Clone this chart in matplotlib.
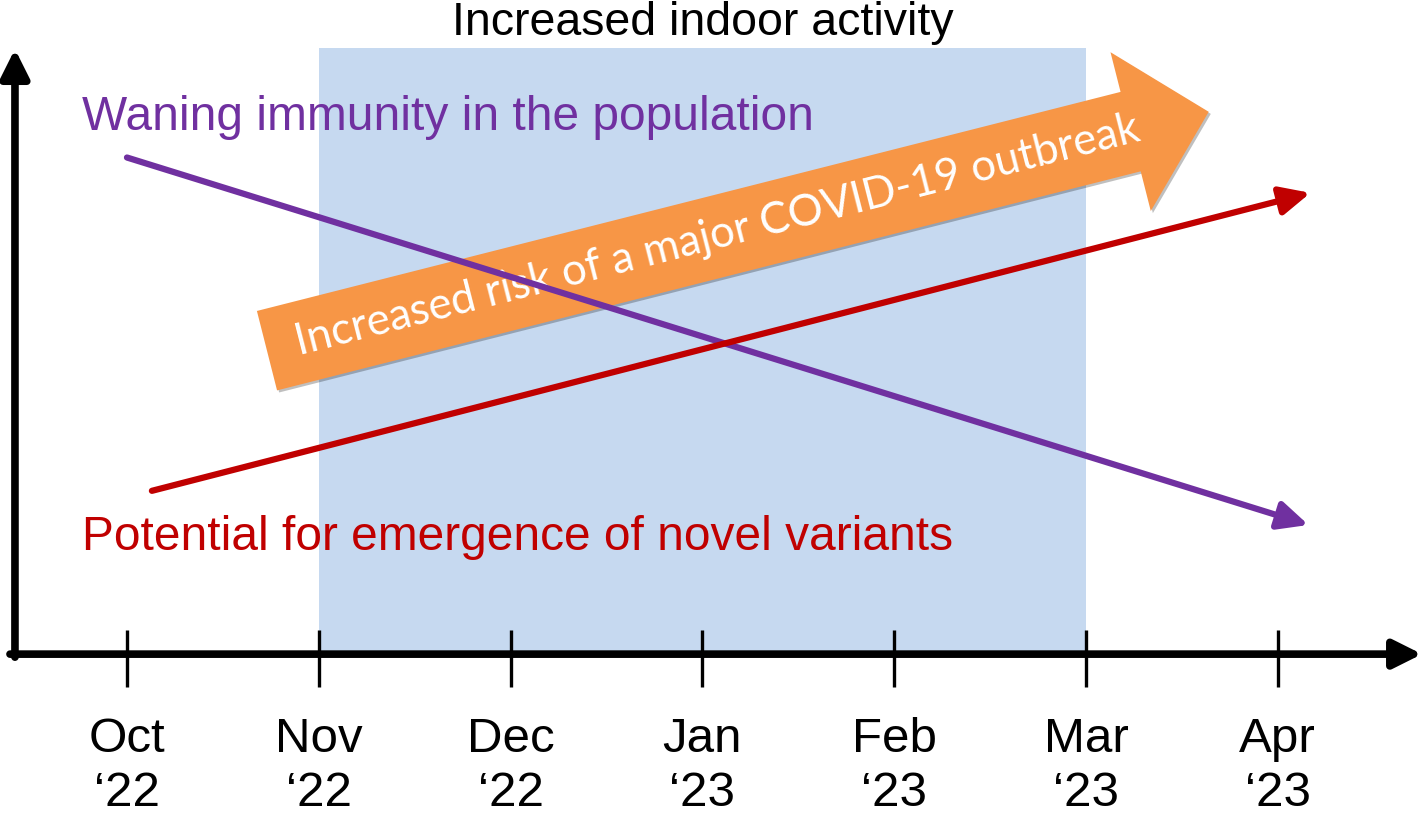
import matplotlib
matplotlib.use("Agg")
import matplotlib.pyplot as plt
import matplotlib.patheffects as pe

# months on the x axis (index 0 = Oct '22)
months = ["Oct", "Nov", "Dec", "Jan", "Feb", "Mar", "Apr"]
years = ["\u201822", "\u201822", "\u201822", "\u201823", "\u201823", "\u201823", "\u201823"]

# indoor season (month index start / end)
indoor_span = [1, 5]

# trend arrows: (month, relative level)
immunity_x = [0.0, 6.16]
immunity_y = [0.815, 0.212]
variants_x = [0.13, 6.17]
variants_y = [0.268, 0.757]
risk_x = [0.73, 5.64]
risk_y = [0.498, 0.890]

PURPLE = "#7030A0"
RED = "#C00000"
ORANGE = "#F79646"
SHADE = "#C6D9F0"

pshadow = [pe.SimplePatchShadow(offset=(1.5, -1.5), alpha=0.25, shadow_rgbFace="k"), pe.Normal()]

fig = plt.figure(figsize=(14.22, 8.15), dpi=100)
ax = fig.add_axes([0, 0, 1, 1])
ax.set_xlim(-0.662, 6.752)
ax.set_ylim(-0.264, 1.0735)
ax.axis("off")

# shaded indoor period
ax.fill_between(indoor_span, 0.0, 0.995, color=SHADE, lw=0, zorder=1)
ax.text(sum(indoor_span) / 2, 1.035, "Increased indoor activity", ha="center", va="center",
        fontsize=33.5, family=["Liberation Sans Narrow", "Liberation Sans"], color="black")

# axes arrows
ax.annotate("", xy=(6.752, 0.0), xytext=(-0.61, 0.0),
            arrowprops=dict(arrowstyle="-|>,head_length=17,head_width=8.5", mutation_scale=1,
                            lw=5.5, color="black", shrinkA=0, shrinkB=0), zorder=5)
ax.annotate("", xy=(-0.584, 0.993), xytext=(-0.584, -0.005),
            arrowprops=dict(arrowstyle="-|>,head_length=17,head_width=8.5", mutation_scale=1,
                            lw=5.5, color="black", shrinkA=0, shrinkB=0), zorder=5)

# ticks and month labels
for i, (m, y) in enumerate(zip(months, years)):
    ax.plot([i, i], [-0.054, 0.039], color="black", lw=2.4, solid_capstyle="butt", zorder=6)
    ax.text(i, -0.140, m, ha="center", va="center", fontsize=35.5, family="Liberation Sans")
    ax.text(i, -0.229, y, ha="center", va="center", fontsize=35.5, family="Liberation Sans")

# orange risk arrow
ax.annotate("", xy=(risk_x[1], risk_y[1]), xytext=(risk_x[0], risk_y[0]),
            arrowprops=dict(arrowstyle="simple,head_length=58,head_width=118,tail_width=59",
                            mutation_scale=1, fc=ORANGE, ec="none", shrinkA=0, shrinkB=0,
                            path_effects=pshadow), zorder=3)
ax.text(3.08, 0.686, "Increased risk of a major COVID-19 outbreak", rotation=14.3,
        rotation_mode="anchor", ha="center", va="center", fontsize=31.5, color="white",
        family="Lato", zorder=4)

# immunity and variants arrows
ax.annotate("", xy=(immunity_x[1], immunity_y[1]), xytext=(immunity_x[0], immunity_y[0]),
            arrowprops=dict(arrowstyle="-|>,head_length=18,head_width=8.5", mutation_scale=1,
                            lw=4.5, color=PURPLE, shrinkA=0, shrinkB=0, path_effects=pshadow),
            zorder=4)
ax.annotate("", xy=(variants_x[1], variants_y[1]), xytext=(variants_x[0], variants_y[0]),
            arrowprops=dict(arrowstyle="-|>,head_length=18,head_width=8.5", mutation_scale=1,
                            lw=4.5, color=RED, shrinkA=0, shrinkB=0, path_effects=pshadow),
            zorder=4)

ax.text(-0.235, 0.881, "Waning immunity in the population", ha="left", va="center",
        fontsize=34.5, color=PURPLE, family="Liberation Sans", zorder=5)
ax.text(-0.235, 0.192, "Potential for emergence of novel variants", ha="left", va="center",
        fontsize=34.5, color=RED, family="Liberation Sans", zorder=5)

fig.savefig("out.png", dpi=100)
